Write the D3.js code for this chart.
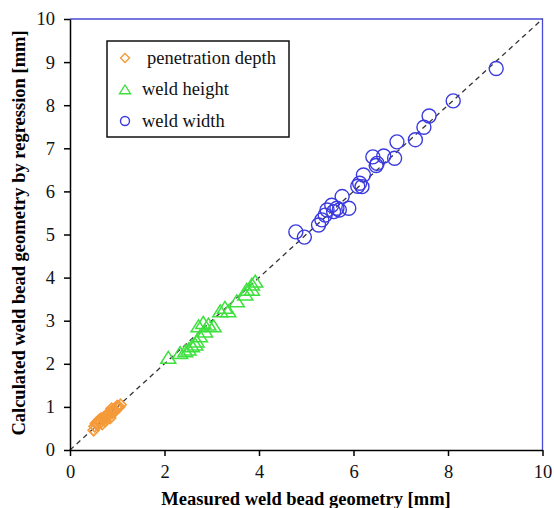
<!DOCTYPE html>
<html><head><meta charset="utf-8">
<script src="https://cdn.jsdelivr.net/npm/d3@7"></script>
<style>body{margin:0;background:#fff}</style>
</head><body><svg id="c" width="554" height="508"></svg>
<script>
const xTicks = [0,2,4,6,8,10];
const yTicks = [0,1,2,3,4,5,6,7,8,9,10];
const seriesNames = ["penetration depth","weld height","weld width"];
// [measured, calculated]
const penetration = [[0.50,0.46],[0.52,0.55],[0.55,0.62],[0.58,0.58],[0.60,0.66],[0.62,0.70],[0.65,0.64],[0.66,0.73],[0.68,0.60],[0.70,0.70],[0.72,0.76],[0.75,0.68],[0.76,0.80],[0.80,0.78],[0.82,0.84],[0.85,0.74],[0.86,0.88],[0.88,0.96],[0.90,0.86],[0.92,0.94],[0.95,0.90],[0.98,0.98],[1.00,1.02],[1.04,1.00],[1.07,1.05]];
const height = [[2.08,2.13],[2.33,2.24],[2.44,2.28],[2.51,2.32],[2.58,2.40],[2.65,2.44],[2.68,2.51],[2.75,2.63],[2.86,2.74],[2.72,2.86],[2.82,2.94],[2.93,2.90],[3.04,2.86],[3.18,3.21],[3.28,3.29],[3.35,3.21],[3.53,3.44],[3.71,3.60],[3.74,3.71],[3.85,3.71],[3.85,3.83],[3.92,3.90]];
const width = [[4.78,5.06],[4.96,4.94],[5.26,5.22],[5.33,5.34],[5.40,5.45],[5.44,5.57],[5.54,5.68],[5.58,5.53],[5.65,5.61],[5.70,5.57],[5.76,5.88],[5.90,5.61],[6.09,6.12],[6.18,6.11],[6.13,6.19],[6.21,6.38],[6.50,6.65],[6.48,6.60],[6.41,6.80],[6.64,6.82],[6.87,6.77],[6.92,7.15],[7.31,7.20],[7.49,7.49],[7.60,7.75],[8.11,8.10],[9.02,8.85]];

const svg = d3.select("#c");
const x = d3.scaleLinear().domain([0,10]).range([70,542.5]);
const y = d3.scaleLinear().domain([0,10]).range([450,19]);
const font = "'Liberation Serif','Times New Roman',serif";
const cOrange = "#f59a3a", cGreen = "#3ee03e", cBlue = "#3a3ae0";

// top & right border
svg.append("path").attr("d",`M${x(0)},${y(10)}H${x(10)}V${y(0)}`).attr("fill","none").attr("stroke","#4a4ad8").attr("stroke-width",1.3);

// diagonal
svg.append("line").attr("x1",x(0)).attr("y1",y(0)).attr("x2",x(10)).attr("y2",y(10))
  .attr("stroke","#333").attr("stroke-width",1.3).attr("stroke-dasharray","5,4");

// data
const diamond = s => `M0,${-s}L${s},0L0,${s}L${-s},0Z`;
const tri = s => `M0,${-s}L${s*1.1},${s*0.75}L${-s*1.1},${s*0.75}Z`;
svg.append("g").selectAll("path").data(penetration).join("path")
  .attr("d",diamond(5.5)).attr("transform",d=>`translate(${x(d[0])},${y(d[1])})`)
  .attr("fill","none").attr("stroke",cOrange).attr("stroke-width",1.7);
svg.append("g").selectAll("path").data(height).join("path")
  .attr("d",tri(6.8)).attr("transform",d=>`translate(${x(d[0])},${y(d[1])})`)
  .attr("fill","none").attr("stroke",cGreen).attr("stroke-width",1.5);
svg.append("g").selectAll("circle").data(width).join("circle")
  .attr("cx",d=>x(d[0])).attr("cy",d=>y(d[1])).attr("r",7)
  .attr("fill","none").attr("stroke",cBlue).attr("stroke-width",1.4);

// axes
const xa = svg.append("g").attr("transform",`translate(0,${y(0)})`).call(d3.axisBottom(x).tickValues(xTicks).tickSize(6).tickSizeOuter(0).tickPadding(9));
const ya = svg.append("g").attr("transform",`translate(${x(0)},0)`).call(d3.axisLeft(y).tickValues(yTicks).tickSize(6).tickSizeOuter(0).tickPadding(9));
[xa,ya].forEach(a=>{
  a.selectAll("path,line").attr("stroke","#000").attr("stroke-width",1.5);
  a.selectAll("text").attr("font-family",font).attr("font-size",18.5).attr("fill","#111");
});

// axis titles
svg.append("text").attr("x",306).attr("y",505).attr("text-anchor","middle")
  .attr("font-family",font).attr("font-weight","bold").attr("font-size",18.5).text("Measured weld bead geometry [mm]");
svg.append("text").attr("transform",`translate(25,233) rotate(-90)`).attr("text-anchor","middle")
  .attr("font-family",font).attr("font-weight","bold").attr("font-size",18.5).text("Calculated weld bead geometry by regression [mm]");

// legend
const lg = svg.append("g");
lg.append("rect").attr("x",107).attr("y",41).attr("width",182).attr("height",96)
  .attr("fill","#fff").attr("stroke","#111").attr("stroke-width",1.5);
const ly = [58,89,121];
lg.append("path").attr("d",diamond(4.5)).attr("transform",`translate(125,${ly[0]})`).attr("fill","none").attr("stroke",cOrange).attr("stroke-width",1.4);
lg.append("path").attr("d",tri(5)).attr("transform",`translate(125,${ly[1]+1})`).attr("fill","none").attr("stroke",cGreen).attr("stroke-width",1.4);
lg.append("circle").attr("cx",125).attr("cy",ly[2]).attr("r",4.5).attr("fill","none").attr("stroke",cBlue).attr("stroke-width",1.4);
lg.selectAll("text.l").data(seriesNames).join("text").attr("class","l")
  .attr("x",(d,i)=>i===0?147:142).attr("y",(d,i)=>ly[i]+6)
  .attr("font-family",font).attr("font-size",18.5).attr("fill","#111").text(d=>d);
</script></body></html>
